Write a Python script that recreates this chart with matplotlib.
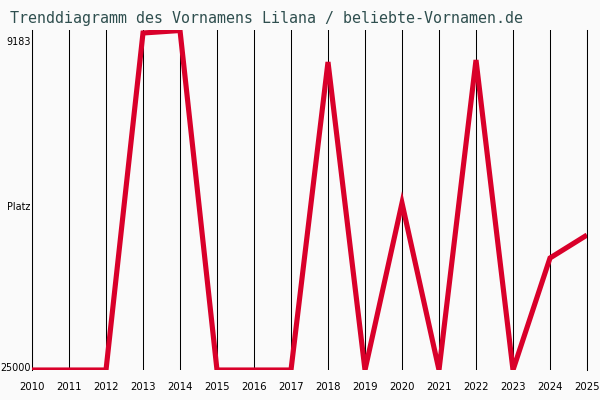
import matplotlib
matplotlib.use("Agg")
import matplotlib.pyplot as plt
import matplotlib.transforms as mtransforms

years = list(range(2010, 2026))
ranks = [25000, 25000, 25000, 8798, 8678, 25000, 25000, 25000,
         10193, 25000, 16972, 25000, 10097, 25000, 19616, 18511]
ytick_vals = [9183, 17091.5, 25000]
ytick_labels = ["9183", "Platz", "25000"]
title = "Trenddiagramm des Vornamens Lilana / beliebte-Vornamen.de"

bg = "#fafafa"
fig = plt.figure(figsize=(6, 4), dpi=100, facecolor=bg)
ax = fig.add_axes([32/600, 30/400, 555/600, 340/400])
ax.set_facecolor(bg)

ax.plot(years, ranks, color="#d9002a", lw=3.7, zorder=3,
        solid_joinstyle="miter", solid_capstyle="butt")

ax.set_xlim(years[0], years[-1])
ax.set_ylim(25000, 8654)
ax.set_xticks(years)
ax.set_xticklabels([str(y) for y in years], fontsize=7.3, family="DejaVu Sans")
ax.set_yticks(ytick_vals)
ax.set_yticklabels(ytick_labels, fontsize=6.9, family="DejaVu Sans")
ax.tick_params(axis="both", length=0)
ax.tick_params(axis="x", pad=9)
ax.tick_params(axis="y", pad=1)
ax.get_yticklabels()[2].set_transform(
    ax.get_yticklabels()[2].get_transform()
    + mtransforms.ScaledTranslation(0, 3/100, fig.dpi_scale_trans))
ax.grid(axis="x", color="black", lw=0.75, zorder=1)
ax.grid(axis="y", visible=False)
for s in ["top", "bottom"]:
    ax.spines[s].set_visible(False)
for s in ["left", "right"]:
    ax.spines[s].set_color("black")
    ax.spines[s].set_linewidth(0.75)

fig.text(10/600, 1 - 18/400, title, family="DejaVu Sans Mono", fontsize=10.8,
         color="#2f4f4f", va="center", ha="left")

fig.savefig("out.png", dpi=100, facecolor=bg)
